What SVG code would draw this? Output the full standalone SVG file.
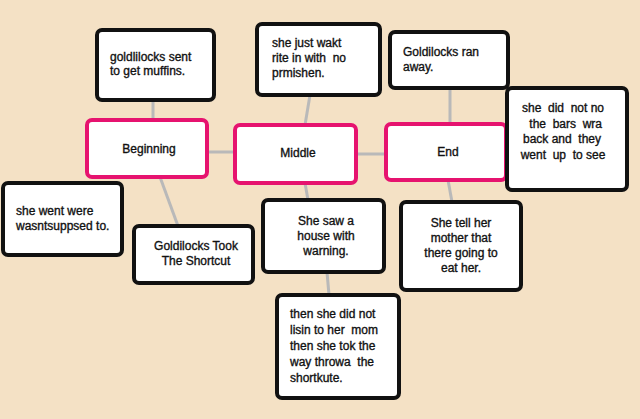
<svg xmlns="http://www.w3.org/2000/svg" width="640" height="419" viewBox="0 0 640 419">
<style>
.bg{fill:#f4e1c5}
.box{fill:#fff;stroke:#111;stroke-width:4}
.key{fill:#fff;stroke:#e6136f;stroke-width:4}
.lnk{stroke:#b9b9b9;stroke-width:3;fill:none}
text{font-family:"Liberation Sans",Arial,sans-serif;font-size:12px;fill:#111;stroke:#111;stroke-width:0.35;white-space:pre}
.c{text-anchor:middle}
</style>
<rect class="bg" x="0" y="0" width="640" height="419"/>
<g id="connectors">
<line class="lnk" x1="153" y1="100" x2="153" y2="120"/>
<line class="lnk" x1="207" y1="152" x2="235" y2="152"/>
<line class="lnk" x1="356" y1="154" x2="386" y2="154"/>
<line class="lnk" x1="160" y1="177" x2="178" y2="226"/>
<line class="lnk" x1="310" y1="95" x2="305" y2="125"/>
<line class="lnk" x1="305" y1="183" x2="308" y2="200"/>
<line class="lnk" x1="327" y1="272" x2="329" y2="295"/>
<line class="lnk" x1="450" y1="88" x2="450" y2="124"/>
<line class="lnk" x1="448" y1="180" x2="452" y2="202"/>
</g>
<g id="n-muffins"><rect class="box" x="97" y="30" width="117" height="70" rx="5"/>
<text x="110" y="61">goldlilocks sent</text><text x="110" y="75">to get muffins.</text></g>
<g id="n-beginning"><rect class="key" x="87" y="120" width="120" height="57" rx="5"/>
<text class="c" x="149" y="153">Beginning</text></g>
<g id="n-middle"><rect class="key" x="235" y="125" width="121" height="58" rx="5"/>
<text class="c" x="298" y="157">Middle</text></g>
<g id="n-wakt"><rect class="box" x="257" y="24" width="123" height="71" rx="5"/>
<text x="272" y="47">she just wakt</text><text x="272" y="62">rite in with  no</text><text x="272" y="77">prmishen.</text></g>
<g id="n-ranaway"><rect class="box" x="390" y="32" width="118" height="56" rx="5"/>
<text x="403" y="56">Goldilocks ran</text><text x="403" y="71">away.</text></g>
<g id="n-end"><rect class="key" x="386" y="124" width="120" height="56" rx="5"/>
<text class="c" x="448" y="156">End</text></g>
<g id="n-didnot"><rect class="box" x="507" y="88" width="120" height="102" rx="5"/>
<text class="c" x="563" y="112">she  did  not no</text><text class="c" x="564" y="128"> the  bars  wra</text><text class="c" x="562" y="143">back and  they</text><text class="c" x="563" y="159">went  up  to see</text></g>
<g id="n-went"><rect class="box" x="3" y="183" width="119" height="72" rx="5"/>
<text x="16" y="215">she went were</text><text x="16" y="230">wasntsuppsed to.</text></g>
<g id="n-took"><rect class="box" x="134" y="226" width="119" height="57" rx="5"/>
<text class="c" x="196" y="250">Goldilocks Took</text><text class="c" x="196" y="265">The Shortcut</text></g>
<g id="n-saw"><rect class="box" x="263" y="200" width="121" height="72" rx="5"/>
<text class="c" x="326" y="225">She saw a</text><text class="c" x="326" y="240">house with</text><text class="c" x="326" y="255">warning.</text></g>
<g id="n-tell"><rect class="box" x="401" y="202" width="120" height="88" rx="5"/>
<text class="c" x="461" y="227">She tell her</text><text class="c" x="461" y="242">mother that</text><text class="c" x="461" y="257">there going to</text><text class="c" x="461" y="272">eat her.</text></g>
<g id="n-then"><rect class="box" x="277" y="295" width="122" height="103" rx="5"/>
<text x="290" y="318">then she did not</text><text x="290" y="334">lisin to her  mom</text><text x="290" y="350">then she tok the</text><text x="290" y="366">way throwa  the</text><text x="290" y="382">shortkute.</text></g>
</svg>
